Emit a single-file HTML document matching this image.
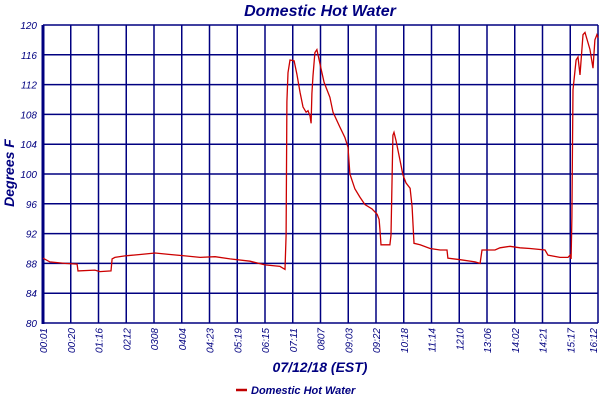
<!DOCTYPE html>
<html><head><meta charset="utf-8"><style>
body{margin:0;background:#fff;}
svg{display:block;font-family:"Liberation Sans",sans-serif;}
</style></head><body>
<svg id="chart" width="600" height="400">
<text x="320" y="16" text-anchor="middle" font-size="16" font-weight="bold" font-style="italic" fill="#000080">Domestic Hot Water</text>
<text transform="translate(14,173) rotate(-90)" text-anchor="middle" font-size="14" font-weight="bold" font-style="italic" fill="#000080">Degrees F</text>
<text x="320" y="372" text-anchor="middle" font-size="14" font-weight="bold" font-style="italic" fill="#000080">07/12/18 (EST)</text>
<g>
<line x1="236" y1="390" x2="247" y2="390" stroke="#c00000" stroke-width="2.5"/>
<text x="251" y="394" font-size="11" font-weight="bold" font-style="italic" fill="#000080">Domestic Hot Water</text>
</g>
<g id="grid"></g><g id="series"></g><g id="labels"></g>
</svg>
<script>
const xTickLabels=["00:01","00:20","01:16","0212","0308","0404","04:23","05:19","06:15","07:11","0807","09:03","09:22","10:18","11:14","1210","13:06","14:02","14:21","15:17","16:12"];
const yTicks=[80,84,88,92,96,100,104,108,112,116,120];
const xPos=[0,0.25,0.79,1.23,1.26,1.87,2.05,2.45,2.49,2.59,2.95,3.5,4.04,4.58,5.12,5.66,6.2,6.74,7.46,8.0,8.54,8.72,8.76,8.79,8.83,8.9,9.05,9.15,9.26,9.37,9.48,9.55,9.62,9.66,9.69,9.73,9.8,9.87,9.91,10.02,10.13,10.34,10.45,10.7,10.88,10.99,11.06,11.24,11.42,11.6,11.86,12.04,12.11,12.14,12.18,12.5,12.54,12.61,12.65,12.72,12.86,12.97,13.08,13.23,13.3,13.37,13.59,13.95,14.31,14.56,14.59,15.03,15.57,15.75,15.82,16.29,16.47,16.83,17.19,17.55,18.09,18.2,18.63,18.92,18.99,19.03,19.06,19.08,19.1,19.21,19.28,19.35,19.46,19.53,19.71,19.82,19.89,19.96,20];
const temps=[88.7,88.2,88,87.9,87,87.1,86.9,87,88.6,88.8,89,89.2,89.4,89.2,89,88.8,88.9,88.6,88.3,87.8,87.6,87.2,91.8,109.7,113.6,115.3,115.2,113.4,111,109,108.3,108.5,107.8,106.8,110.8,113.2,116.3,116.7,116,114.1,112.3,110.3,108.3,106.3,104.9,103.6,100,98,96.9,95.9,95.3,94.6,93.9,92.6,90.5,90.5,91.8,105.2,105.6,104.5,101.9,99.9,98.8,98.1,95.6,90.7,90.5,90,89.8,89.8,88.7,88.5,88.2,88,89.8,89.8,90.1,90.3,90.1,90,89.8,89.1,88.8,88.8,89.1,88.6,94.2,104,111.3,115.3,115.7,113.3,118.7,119,116.7,114.2,118,118.7,118.3];
const L=43,R=598,T=25,B=323;
const xs=i=>L+i*(R-L)/(xTickLabels.length-1);
const ys=v=>B-(v-80)*(B-T)/40;
const NS="http://www.w3.org/2000/svg";
const grid=document.getElementById('grid'),lab=document.getElementById('labels'),ser=document.getElementById('series');
function mk(tag,attrs,parent){const e=document.createElementNS(NS,tag);for(const k in attrs)e.setAttribute(k,attrs[k]);parent.appendChild(e);return e;}
yTicks.forEach(v=>{
 const g=mk('line',{x1:L,x2:R,y1:ys(v),y2:ys(v),stroke:'#000080','stroke-width':1.5},grid);
 
 
 const t=mk('text',{x:37,y:ys(v)+4,'text-anchor':'end','font-size':10,'font-style':'italic',fill:'#000080'},lab);
 t.textContent=v;
 
 
});
xTickLabels.forEach((s,i)=>{
 const g=mk('line',{x1:xs(i),x2:xs(i),y1:T,y2:B,stroke:'#000080','stroke-width':1.5},grid);
 
 
 const tx=Math.min(xs(i)+4,597);
 const t=mk('text',{transform:`translate(${tx},328) rotate(-90)`,'text-anchor':'end','font-size':10,'font-style':'italic',fill:'#000080'},lab);
 t.textContent=s;
 
 
});
const ax=mk('line',{x1:L,x2:L,y1:T,y2:B+1,stroke:'#000080','stroke-width':3},grid);


const pts=xPos.map((x,i)=>xs(x).toFixed(1)+','+ys(temps[i]).toFixed(1)).join(' ');
const pl=mk('polyline',{points:pts,fill:'none',stroke:'#cc0000','stroke-width':1.3},ser);


</script>
</body></html>
